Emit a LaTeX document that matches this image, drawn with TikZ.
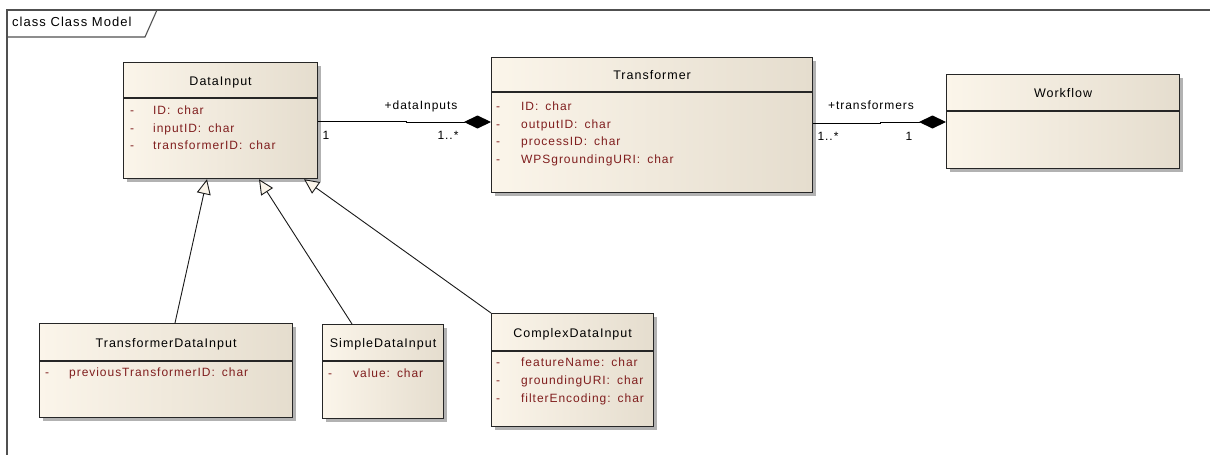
\documentclass[tikz,border=0pt]{standalone}
\usepackage{fontspec}
\setmainfont{Liberation Sans}[LetterSpace=8]
\usetikzlibrary{arrows.meta,calc,shadows}

\definecolor{boxlight}{RGB}{251,245,234}
\definecolor{boxdark}{RGB}{229,221,206}
\definecolor{attrred}{RGB}{128,30,30}
\definecolor{framegray}{RGB}{80,80,80}
\definecolor{shadowgray}{RGB}{170,170,170}

\newcommand\colsep{\hspace{7pt}}

\tikzset{
  classbox/.style={draw=black!85, line width=1.2pt, left color=boxlight, right color=boxdark,
    anchor=north west, inner sep=0pt,
    drop shadow={shadow xshift=3.5pt, shadow yshift=-3.5pt, fill=shadowgray, opacity=0.9}},
  headerline/.style={draw=black!85, line width=1.1pt},
  classname/.style={font=\fontsize{12.5}{14}\selectfont, inner sep=0pt, anchor=mid},
  attr/.style={font=\fontsize{12}{14}\selectfont, text=attrred, anchor=mid west, inner sep=0pt},
  attrdash/.style={font=\fontsize{12}{14}\selectfont, text=attrred, anchor=mid, inner sep=0pt},
  rolelabel/.style={font=\fontsize{12}{14}\selectfont, inner sep=0pt, anchor=mid},
  generalize/.style={draw=black!90, line width=0.9pt,
    -{Triangle[length=15pt,width=14pt,fill=boxlight,line width=0.9pt]}},
  compose/.style={draw=black, line width=1pt,
    -{Diamond[length=27pt,width=13pt,fill=black]}},
  framerule/.style={draw=framegray, line width=1.5pt}
}

% a class box: name, x, y, width, height, header height, class name
\newcommand\umlclass[7]{%
  \node[classbox, minimum width=#4pt, minimum height=#5pt] (#1) at (#2,#3) {};
  \draw[headerline] ($(#1.north west)+(0,#6)$) -- ($(#1.north east)+(0,#6)$);
  \node[classname] (#1-title) at ($(#1.north)+(0,{#6/2+2.5})$) {#7};
}

\begin{document}
\begin{tikzpicture}[x=1pt,y=-1pt]
  \useasboundingbox[fill=white] (0,0) rectangle (1210,455);

  % diagram frame and its name tab
  \coordinate (frameTR) at (1210,10);
  \coordinate (frameTL) at (7,10);
  \coordinate (frameBL) at (7,457);
  \draw[framerule] (frameTR) -- (frameTL) -- (frameBL);
  \coordinate (tabL) at (7,37);
  \coordinate (tabR) at (145,37);
  \coordinate (tabT) at (157,10);
  \draw[framerule, line width=1.1pt] (tabL) -- (tabR) -- (tabT);
  \node[anchor=mid west, inner sep=0pt, font=\fontsize{13}{15}\selectfont] (frametitle) at (12,24) {class Class Model};

  % classes
  \umlclass{dataInput}{123}{62}{194}{116}{36}{DataInput}
  \umlclass{transformer}{491}{57}{321}{135}{35}{Transformer}
  \umlclass{workflow}{946}{74}{233}{94}{37}{Workflow}
  \umlclass{tdi}{39}{323}{253}{94}{38}{TransformerDataInput}
  \umlclass{sdi}{322}{324}{121}{94}{37}{SimpleDataInput}
  \umlclass{cdi}{491}{313}{162}{113}{38}{ComplexDataInput}

  % DataInput attributes
  \node[attrdash] (di-d1) at (132,112) {-};
  \node[attrdash] (di-d2) at (132,129.5) {-};
  \node[attrdash] (di-d3) at (132,147) {-};
  \node[attr] (di-a1) at (153,112) {ID:\colsep char};
  \node[attr] (di-a2) at (153,129.5) {inputID:\colsep char};
  \node[attr] (di-a3) at (153,147) {transformerID:\colsep char};

  % Transformer attributes
  \node[attrdash] (tr-d1) at (498,108) {-};
  \node[attrdash] (tr-d2) at (498,125.5) {-};
  \node[attrdash] (tr-d3) at (498,143) {-};
  \node[attrdash] (tr-d4) at (498,160.5) {-};
  \node[attr] (tr-a1) at (521,108) {ID:\colsep char};
  \node[attr] (tr-a2) at (521,125.5) {outputID:\colsep char};
  \node[attr] (tr-a3) at (521,143) {processID:\colsep char};
  \node[attr] (tr-a4) at (521,160.5) {WPSgroundingURI:\colsep char};

  % TransformerDataInput attribute
  \node[attrdash] (tdi-d1) at (47,374) {-};
  \node[attr] (tdi-a1) at (69,374) {previousTransformerID:\colsep char};

  % SimpleDataInput attribute
  \node[attrdash] (sdi-d1) at (330,375) {-};
  \node[attr] (sdi-a1) at (353,375) {value:\colsep char};

  % ComplexDataInput attributes
  \node[attrdash] (cdi-d1) at (498,364) {-};
  \node[attrdash] (cdi-d2) at (498,382) {-};
  \node[attrdash] (cdi-d3) at (498,400) {-};
  \node[attr] (cdi-a1) at (521,364) {featureName:\colsep char};
  \node[attr] (cdi-a2) at (521,382) {groundingURI:\colsep char};
  \node[attr] (cdi-a3) at (521,400) {filterEncoding:\colsep char};

  % compositions
  \draw[compose] ($(dataInput.north east)+(0,59)$) -- ++(88,0) |- ($(transformer.north west)+(0,65)$);
  \draw[compose] ($(transformer.north east)+(0,66)$) -- ++(67,0) |- ($(workflow.north west)+(0,48)$);

  % association end labels
  \node[rolelabel] (lblDataInputs) at (421,107) {+dataInputs};
  \node[rolelabel] (multDI1) at (326,137) {1};
  \node[rolelabel] (multDIn) at (448,137) {1..*};
  \node[rolelabel] (lblTransformers) at (871,107) {+transformers};
  \node[rolelabel] (multTRn) at (828,138) {1..*};
  \node[rolelabel] (multTR1) at (909,138) {1};

  % generalizations
  \draw[generalize] ($(tdi.north west)+(136,0)$) -- ($(dataInput.south west)+(84,0)$);
  \draw[generalize] ($(sdi.north west)+(30,0)$) -- ($(dataInput.south west)+(136,0)$);
  \draw[generalize] (cdi.north west) -- ($(dataInput.south west)+(181,0)$);
\end{tikzpicture}
\end{document}
